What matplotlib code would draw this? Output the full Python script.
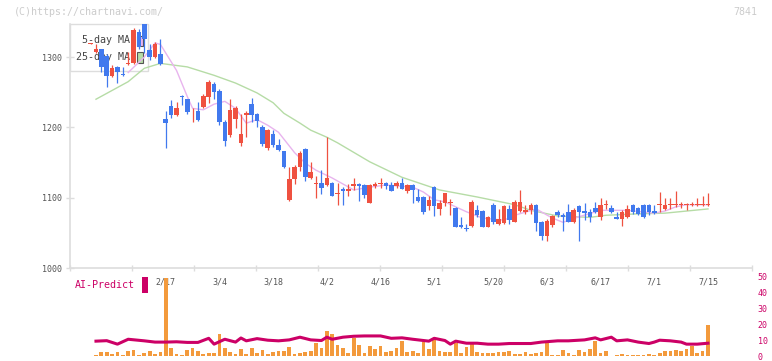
import numpy as np
import matplotlib
matplotlib.use("Agg")
import matplotlib.pyplot as plt
from matplotlib.patches import Rectangle

# ---- data (index 0 = first trading day shown) ----
opens = [1319, 1307, 1311, 1302, 1273, 1286, 1276, 1290, 1291, 1336,
         1350, 1310, 1300, 1305, 1212, 1230, 1217, 1245, 1240, 1224,
         1223, 1229, 1243, 1262, 1252, 1207, 1189, 1212, 1178, 1217,
         1233, 1219, 1201, 1170, 1190, 1175, 1166, 1096, 1126, 1144,
         1169, 1128, 1119, 1121, 1118, 1121, 1105, 1113, 1110, 1116,
         1120, 1118, 1093, 1116, 1119, 1121, 1118, 1117, 1121, 1110,
         1118, 1101, 1101, 1088, 1115, 1084, 1093, 1092, 1086, 1061,
         1056, 1060, 1082, 1081, 1059, 1090, 1062, 1064, 1084, 1066,
         1081, 1080, 1082, 1090, 1065, 1046, 1061, 1079, 1076, 1079,
         1066, 1088, 1081, 1079, 1086, 1072, 1089, 1086, 1073, 1070,
         1072, 1090, 1086, 1090, 1090, 1081, 1089, 1084, 1089, 1089,
         1089, 1089, 1089, 1089, 1089, 1089]
highs = [1320, 1319, 1312, 1305, 1289, 1287, 1286, 1307, 1342, 1340,
         1355, 1319, 1322, 1325, 1223, 1239, 1236, 1246, 1241, 1228,
         1236, 1247, 1267, 1264, 1255, 1210, 1240, 1230, 1219, 1223,
         1242, 1221, 1203, 1198, 1196, 1183, 1167, 1144, 1146, 1166,
         1170, 1151, 1131, 1139, 1186, 1123, 1121, 1115, 1119, 1128,
         1121, 1119, 1120, 1122, 1128, 1123, 1122, 1124, 1128, 1119,
         1119, 1113, 1102, 1103, 1116, 1096, 1107, 1098, 1087, 1072,
         1063, 1096, 1090, 1083, 1074, 1092, 1084, 1089, 1090, 1096,
         1111, 1089, 1092, 1091, 1067, 1069, 1075, 1083, 1078, 1091,
         1085, 1090, 1093, 1084, 1094, 1100, 1096, 1090, 1079, 1082,
         1090, 1091, 1087, 1091, 1091, 1090, 1108, 1100, 1100, 1109,
         1094, 1092, 1094, 1099, 1102, 1107]
lows = [1318, 1306, 1279, 1257, 1272, 1263, 1273, 1289, 1290, 1312,
        1306, 1296, 1299, 1289, 1170, 1214, 1216, 1232, 1219, 1208,
        1209, 1228, 1234, 1240, 1203, 1174, 1187, 1199, 1173, 1187,
        1208, 1201, 1174, 1168, 1172, 1166, 1142, 1095, 1119, 1138,
        1124, 1127, 1099, 1105, 1116, 1102, 1089, 1089, 1103, 1111,
        1095, 1100, 1092, 1114, 1114, 1112, 1109, 1114, 1112, 1106,
        1093, 1094, 1077, 1082, 1074, 1076, 1088, 1075, 1058, 1057,
        1052, 1059, 1072, 1058, 1058, 1063, 1061, 1062, 1062, 1065,
        1080, 1077, 1077, 1052, 1040, 1038, 1059, 1073, 1053, 1065,
        1064, 1039, 1068, 1066, 1078, 1068, 1084, 1078, 1069, 1060,
        1071, 1077, 1076, 1071, 1075, 1077, 1079, 1082, 1084, 1087,
        1086, 1082, 1088, 1088, 1088, 1088]
closes = [1319, 1311, 1286, 1273, 1285, 1279, 1274, 1292, 1338, 1315,
          1326, 1300, 1318, 1290, 1206, 1217, 1227, 1243, 1222, 1225,
          1210, 1245, 1265, 1250, 1207, 1180, 1224, 1228, 1190, 1221,
          1218, 1209, 1176, 1196, 1175, 1168, 1143, 1127, 1144, 1164,
          1130, 1136, 1120, 1114, 1128, 1103, 1106, 1110, 1113, 1120,
          1117, 1104, 1118, 1120, 1120, 1117, 1110, 1121, 1113, 1118,
          1111, 1095, 1079, 1097, 1088, 1093, 1106, 1094, 1059, 1059,
          1055, 1094, 1075, 1059, 1073, 1065, 1070, 1088, 1068, 1094,
          1094, 1083, 1090, 1064, 1046, 1067, 1074, 1075, 1072, 1066,
          1083, 1079, 1078, 1073, 1079, 1090, 1090, 1079, 1070, 1079,
          1084, 1079, 1077, 1072, 1079, 1078, 1090, 1090, 1091, 1090,
          1090, 1090, 1090, 1090, 1090, 1090]
volumes = [0, 0.8, 2.5, 2.5, 1.5, 2.5, 0.8, 3.1, 3.8, 0.8,
           2.0, 3.1, 1.5, 2.5, 49.4, 5.0, 1.5, 0.8, 3.8, 5.0,
           3.1, 1.5, 1.8, 1.8, 13.8, 5.0, 2.5, 1.5, 4.4, 1.5,
           5.0, 1.8, 3.8, 1.5, 2.5, 3.1, 3.1, 5.6, 1.5, 1.8,
           2.5, 3.1, 8.1, 5.0, 15.6, 13.8, 6.9, 5.0, 1.8, 11.2,
           6.9, 1.8, 6.2, 4.4, 6.2, 2.5, 3.1, 5.0, 9.4, 2.5,
           3.1, 1.8, 8.8, 4.4, 10.0, 3.1, 2.5, 2.5, 8.1, 1.8,
           5.6, 8.1, 2.5, 1.8, 1.8, 1.8, 2.5, 2.5, 3.1, 1.2,
           1.2, 2.5, 1.2, 1.8, 2.5, 8.1, 0.6, 0.6, 3.8, 1.8,
           0.6, 3.8, 2.5, 4.4, 9.4, 1.8, 3.1, 0.2, 0.6, 1.2,
           0.6, 0.6, 0.6, 0.6, 1.2, 0.6, 1.8, 3.1, 3.1, 3.8,
           3.1, 4.4, 6.2, 1.8, 3.1, 19.4]

ma5_idx = [7, 10, 12, 13, 16, 18, 19, 21, 23, 25, 27, 29, 31, 33, 35, 38, 40,
           42, 45, 49, 52, 55, 60, 62, 64, 66, 70, 73, 77, 79, 83, 86, 88, 91,
           95, 100, 105, 107, 109, 111, 115]
ma5_val = [1278, 1300, 1320, 1318, 1281, 1244, 1227, 1225, 1233, 1237, 1227,
           1206, 1211, 1203, 1193, 1164, 1149, 1139, 1128, 1111, 1115, 1118,
           1115, 1108, 1097, 1094, 1080, 1071, 1068, 1075, 1084, 1071, 1065,
           1073, 1082, 1082, 1078, 1081, 1087, 1090, 1090]

ma25_idx = [1, 7, 10, 13, 18, 23, 27, 31, 34, 36, 39, 41, 44, 46, 52, 58, 65,
            72, 79, 82, 87, 93, 96, 102, 107, 111, 115]
ma25_val = [1240, 1265, 1284, 1291, 1286, 1274, 1263, 1249, 1235, 1220, 1206,
            1196, 1186, 1178, 1151, 1129, 1111, 1101, 1090, 1082, 1074, 1072,
            1075, 1077, 1078, 1081, 1084]

ai_idx = [1, 3, 5, 7, 10, 12, 14, 16, 18, 20, 22, 23, 25, 27, 28, 29, 31, 33,
          35, 37, 39, 41, 43, 44, 45, 47, 49, 51, 54, 56, 58, 60, 63, 64, 66,
          67, 68, 70, 72, 74, 76, 78, 80, 82, 84, 87, 89, 92, 94, 95, 97, 98,
          100, 102, 104, 105, 106, 108, 110, 111, 113, 115]
ai_val = [9.4, 9.7, 7.5, 10.6, 9.6, 8.8, 8.8, 9.0, 8.6, 8.6, 11.2, 7.5, 10.6,
          8.8, 11.4, 9.6, 11.0, 10.0, 9.6, 10.2, 11.9, 10.2, 9.8, 11.9, 10.6,
          11.9, 12.5, 12.7, 12.7, 11.2, 11.5, 10.6, 9.4, 11.2, 9.8, 7.5, 9.4,
          8.1, 8.1, 7.5, 7.5, 7.9, 7.9, 7.9, 8.8, 9.6, 9.6, 10.2, 11.5, 10.2,
          11.9, 9.6, 10.2, 8.8, 7.9, 8.8, 10.0, 9.6, 8.8, 7.5, 7.5, 8.1]

date_labels = ["2/17", "3/4", "3/18", "4/2", "4/16", "5/1", "5/20", "6/3",
               "6/17", "7/1", "7/15"]
date_idx = [14, 24, 34, 44, 54, 64, 75, 85, 95, 105, 115]

# ---- colours ----
UP = "#ef5140"
DOWN = "#4179ee"
MA5_C = "#e8b4ee"
MA25_C = "#b6dca6"
VOL_C = "#f39a3c"
AI_C = "#cc0066"
GRID_C = "#dddddd"
MONO = "DejaVu Sans Mono"

W, H = 772, 361


def fx(px):
    return px / W


def fy(py):
    return 1 - py / H


fig = plt.figure(figsize=(W / 100, H / 100), dpi=100)
ax = fig.add_axes([fx(70), fy(268), fx(682), 244 / H])
axv = fig.add_axes([fx(70), fy(356), fx(682), 79 / H])

n = len(opens)
x = np.arange(n)
o = np.array(opens, float)
c = np.array(closes, float)
colors = [UP if cc >= oo else DOWN for oo, cc in zip(o, c)]

xlo, xhi = -3.84, 123.2

# candles
ax.vlines(x, lows, highs, colors=colors, linewidth=0.9, zorder=3)
body_bot = np.minimum(o, c)
body_h = np.maximum(np.abs(c - o), 1.4)
ax.bar(x, body_h, bottom=body_bot, width=0.85, color=colors, linewidth=0, zorder=4)

# moving averages
ax.plot(ma25_idx, ma25_val, color=MA25_C, linewidth=1.0, zorder=2)
ax.plot(ma5_idx, ma5_val, color=MA5_C, linewidth=1.0, zorder=2)

ax.set_xlim(xlo, xhi)
ax.set_ylim(1000, 1347)
ax.set_yticks([1000, 1100, 1200, 1300])
ax.set_xticks(np.linspace(xlo, xhi, 12))
ax.set_xticklabels([])
ax.tick_params(axis="y", direction="inout", length=6, width=1, color=GRID_C,
               labelsize=6, labelcolor="#555555", pad=3)
ax.tick_params(axis="x", direction="inout", length=4, width=1, color=GRID_C)
for lab in ax.get_yticklabels():
    lab.set_family(MONO)
for s in ["top", "right"]:
    ax.spines[s].set_visible(False)
for s in ["left", "bottom"]:
    ax.spines[s].set_color(GRID_C)
    ax.spines[s].set_linewidth(1.2)
ax.patch.set_alpha(0)

# date labels under the price panel
for lbl, di in zip(date_labels, date_idx):
    ax.text(di, -0.057, lbl, transform=ax.get_xaxis_transform(), ha="center",
            va="center", fontsize=6, color="#555555", family=MONO)

# legend box, placed in the price axes beneath the candles
def ax_px(px, py):
    # figure pixel -> price-axes fraction
    return (px - 70) / 682, (268 - py) / 244


bx, by = ax_px(70, 71)
ax.add_patch(Rectangle((bx, by), 78 / 682, 47 / 244, transform=ax.transAxes,
                       facecolor="white", edgecolor=GRID_C, linewidth=1,
                       zorder=1, clip_on=False))
tx, ty = ax_px(130, 40)
ax.text(tx, ty, "5-day MA", transform=ax.transAxes, ha="right", va="center",
        fontsize=7.2, color="#444444", family=MONO, zorder=1.5)
tx, ty = ax_px(130, 57)
ax.text(tx, ty, "25-day MA", transform=ax.transAxes, ha="right", va="center",
        fontsize=7.2, color="#444444", family=MONO, zorder=1.5)
sx, sy = ax_px(137, 46)
ax.add_patch(Rectangle((sx, sy), 6 / 682, 10 / 244, transform=ax.transAxes,
                       facecolor=MA5_C, edgecolor="#555555", linewidth=0.8,
                       zorder=1.5))
sx, sy = ax_px(137, 63)
ax.add_patch(Rectangle((sx, sy), 6 / 682, 11 / 244, transform=ax.transAxes,
                       facecolor=MA25_C, edgecolor="#555555", linewidth=0.8,
                       zorder=1.5))

# volume + AI-Predict panel
axv.bar(x, volumes, width=0.7, color=VOL_C, linewidth=0, zorder=2)
axv.plot(ai_idx, ai_val, color=AI_C, linewidth=2.2, zorder=3)
axv.set_xlim(xlo, xhi)
axv.set_ylim(0, 50)
axv.set_yticks([0, 10, 20, 30, 40, 50])
axv.yaxis.tick_right()
axv.tick_params(axis="y", length=0, labelsize=6, labelcolor=AI_C, pad=4)
for lab in axv.get_yticklabels():
    lab.set_family(MONO)
axv.set_xticks([])
for s in axv.spines.values():
    s.set_visible(False)
axv.patch.set_alpha(0)

fig.text(fx(75), fy(285), "AI-Predict", ha="left", va="center", fontsize=7.2,
         color=AI_C, family=MONO)
fig.patches.append(Rectangle((fx(142), fy(293)), fx(6), 16 / H,
                             transform=fig.transFigure, facecolor=AI_C,
                             edgecolor="none"))

# header texts
fig.text(fx(14), fy(12), "(C)https://chartnavi.com/", ha="left", va="center",
         fontsize=7.2, color="#cccccc", family=MONO)
fig.text(fx(757), fy(12), "7841", ha="right", va="center", fontsize=7.2,
         color="#cccccc", family=MONO)

fig.savefig("out.png", dpi=100)
